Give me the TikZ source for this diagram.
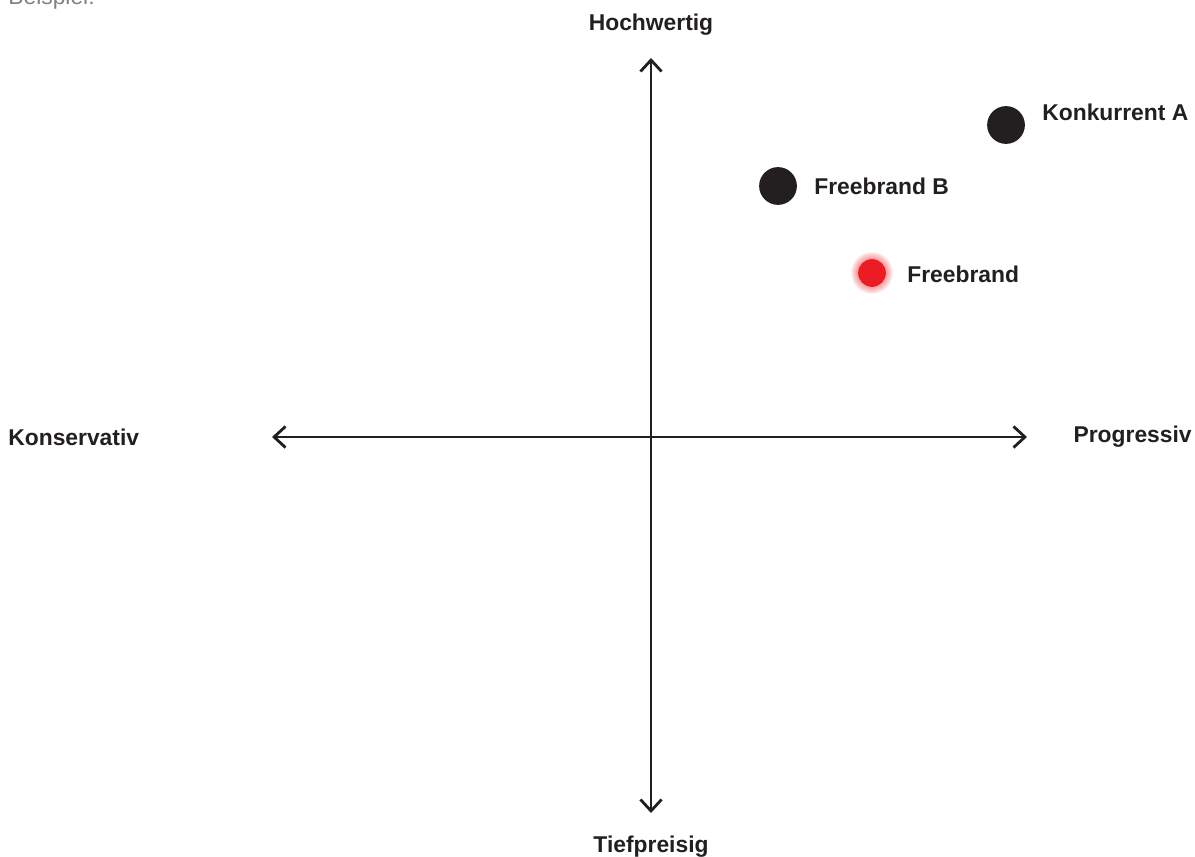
\documentclass[tikz,border=0pt]{standalone}
\usepackage{fontspec}
\setmainfont{Liberation Sans}
\usetikzlibrary{arrows.meta}

\definecolor{dotblack}{HTML}{231F20}
\definecolor{dotred}{HTML}{EC1C24}

\tikzset{
    axis/.style={line width=1.6pt, color=dotblack, {Straight Barb[length=6.5pt,width=12pt]}-{Straight Barb[length=6.5pt,width=12pt]}},
    axislabel/.style={font=\bfseries\fontsize{13}{15}\selectfont, text=dotblack, inner sep=0pt},
    brandlabel/.style={font=\bfseries\fontsize{13}{15}\selectfont, text=dotblack, inner sep=0pt, anchor=west},
    branddot/.style={circle, fill=dotblack, minimum size=21.5pt, inner sep=0pt},
}

\begin{document}
\begin{tikzpicture}[x=0.02cm, y=-0.02cm]
    \useasboundingbox (0,0) rectangle (1195,857);

    % note in the corner
    \node[anchor=base west, inner sep=0pt, text=black!50, font=\fontsize{13}{15}\selectfont] (note) at (8,5) {Beispiel:};

    % axes
    \coordinate (left)   at (272,437);
    \coordinate (right)  at (1027,437);
    \coordinate (top)    at (651,58);
    \coordinate (bottom) at (651,813);
    \draw[axis] (left) -- (right);
    \draw[axis] (bottom) -- (top);

    \node[axislabel] (hoch) at (651,25) {Hochwertig};
    \node[axislabel] (tief) at (651,847) {Tiefpreisig};
    \node[axislabel, anchor=west] (kons) at (8,437) {Konservativ};
    \node[axislabel, anchor=east] (prog) at (1192,437) {Progressiv};

    % brands
    \node[branddot] (konk) at (1006,125) {};
    \node[brandlabel] at (1042,112) {Konkurrent A};

    \node[branddot] (fbb) at (778,186) {};
    \node[brandlabel] at (814,186) {Freebrand B};

    % own brand, with a soft glow
    \coordinate (fbc) at (872,273);
    \foreach \r in {15,16,...,21}
        \fill[dotred, opacity=0.07] (fbc) circle (\r);
    \node[circle, fill=dotred, minimum size=15.8pt, inner sep=0pt] (fb) at (fbc) {};
    \node[brandlabel] at (907,274) {Freebrand};
\end{tikzpicture}
\end{document}
